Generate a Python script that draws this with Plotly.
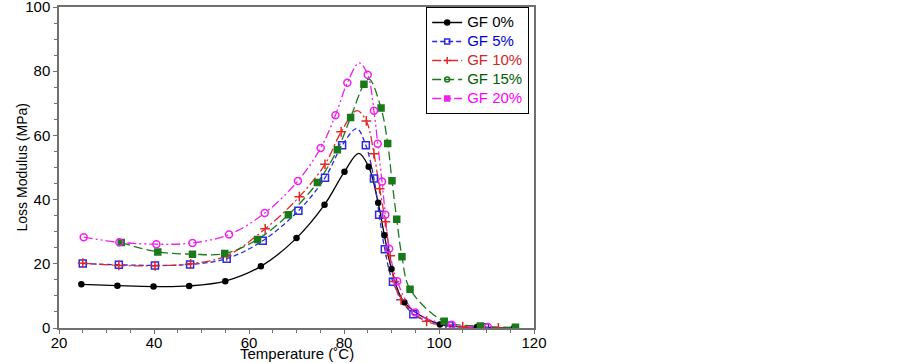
import plotly.graph_objects as go

labels = ["GF 0%", "GF 5%", "GF 10%", "GF 15%", "GF 20%"]

# marker points (Temperature °C, Loss Modulus MPa)
t_gf0 = [24.7, 32.3, 39.9, 47.4, 55.0, 62.5, 70.0, 75.9, 80.1, 85.2, 87.2, 88.5, 90.0, 92.7, 100.2, 108.0, 115.8]
m_gf0 = [13.6, 13.2, 12.9, 13.1, 14.6, 19.2, 28.0, 38.4, 48.7, 50.2, 39.0, 28.9, 18.4, 8.0, 1.1, 0.3, 0.0]

t_gf5 = [25.0, 32.6, 40.2, 47.6, 55.3, 62.9, 70.4, 76.0, 79.6, 84.6, 86.3, 87.4, 88.6, 90.3, 94.6, 102.2, 109.7]
m_gf5 = [20.1, 19.7, 19.5, 19.8, 21.6, 27.2, 36.5, 46.8, 56.9, 56.9, 46.6, 35.3, 24.5, 14.4, 4.3, 0.8, 0.2]

t_gf10 = [25.0, 32.6, 40.2, 47.7, 55.3, 63.4, 70.6, 76.0, 79.4, 84.7, 86.3, 87.5, 88.7, 89.7, 90.6, 92.0, 97.4, 105.0, 112.5]
m_gf10 = [20.2, 19.5, 19.4, 20.0, 22.5, 30.9, 40.9, 51.0, 61.1, 64.5, 54.3, 43.4, 33.1, 22.5, 14.5, 8.8, 2.1, 0.4, 0.0]

t_gf15 = [33.1, 40.8, 48.1, 54.9, 61.8, 68.3, 74.4, 78.6, 81.4, 84.2, 87.8, 89.2, 90.1, 91.1, 92.2, 93.9, 101.1, 108.7, 116.1]
m_gf15 = [26.6, 23.7, 23.0, 23.2, 27.6, 35.3, 45.3, 55.5, 65.6, 75.9, 68.5, 57.5, 45.9, 33.9, 22.2, 12.1, 2.1, 0.6, 0.2]

t_gf20 = [25.2, 32.7, 40.5, 48.1, 55.8, 63.3, 70.3, 75.1, 78.2, 80.7, 85.0, 86.3, 87.1, 88.0, 88.7, 89.5, 91.2, 95.0, 102.7, 110.3]
m_gf20 = [28.3, 26.7, 26.1, 26.5, 29.1, 35.8, 45.8, 56.1, 66.3, 76.4, 78.9, 67.7, 57.4, 45.6, 35.3, 24.7, 14.6, 4.8, 1.0, 0.3]

# curve maxima (between marker points)
peak_t = [83.1, 82.7, 82.7, 85.3, 83.2]
peak_m = [54.4, 62.1, 67.7, 77.5, 82.6]

x_ticks = [20, 40, 60, 80, 100, 120]
y_ticks = [0, 20, 40, 60, 80, 100]

series = [(t_gf0, m_gf0), (t_gf5, m_gf5), (t_gf10, m_gf10), (t_gf15, m_gf15), (t_gf20, m_gf20)]

line_colors = ["#000000", "#2a2ae0", "#e02828", "#1a7a1a", "#f020f0"]
text_colors = ["#000000", "#0000d0", "#d02828", "#006000", "#ff00ff"]
dashes = ["solid", "5px,3px", "9px,3px,2px,3px", "9px,4px", "9px,3px,2px,3px,2px,3px"]
symbols = ["circle", "square-open", "cross-thin", "square", "circle-open"]
sizes = [5, 7, 7, 6, 7]
# the legend of the original shows the 15% / 20% marker symbols swapped
legend_symbols = ["circle", "square-open", "cross-thin", "circle-open", "square"]

FONT = "Liberation Sans, Arial, sans-serif"

fig = go.Figure()

for i, (t, m) in enumerate(series):
    pts = sorted(list(zip(t, m)) + [(peak_t[i], peak_m[i])])
    fig.add_trace(go.Scatter(
        x=[p[0] for p in pts], y=[p[1] for p in pts], mode="lines",
        line=dict(color=line_colors[i], width=1.3, dash=dashes[i], shape="spline", smoothing=1.0),
        showlegend=False, hoverinfo="skip"))

for i, (t, m) in enumerate(series):
    fig.add_trace(go.Scatter(
        x=t, y=m, mode="markers",
        marker=dict(symbol=symbols[i], size=sizes[i], color=line_colors[i],
                    line=dict(color=line_colors[i], width=1.5)),
        showlegend=False, name=labels[i]))

for i in range(5):
    fig.add_trace(go.Scatter(
        x=[None], y=[None], mode="lines+markers",
        name="<span style='color:%s;font-size:15px'>%s</span>" % (text_colors[i], labels[i]),
        line=dict(color=line_colors[i], width=1.3, dash=dashes[i]),
        marker=dict(symbol=legend_symbols[i], size=5, color=line_colors[i],
                    line=dict(color=line_colors[i], width=1.5))))

axis_common = dict(
    showline=True, linecolor="#707070", linewidth=1.5, mirror=True,
    ticks="outside", ticklen=4, tickwidth=1.2, tickcolor="#707070",
    showgrid=False, zeroline=False,
    tickfont=dict(family=FONT, size=15, color="#000000"),
    automargin=False, ticklabeloverflow="allow",
)

fig.update_xaxes(
    range=[20, 120], tickvals=x_ticks, ticktext=[str(v) for v in x_ticks],
    minor=dict(dtick=5, ticks="outside", ticklen=3, tickcolor="#707070", tickwidth=1),
    ticklabelstandoff=-4,
    **axis_common)
fig.update_yaxes(
    range=[0, 100], tickvals=y_ticks, ticktext=[str(v) for v in y_ticks],
    minor=dict(dtick=5, ticks="outside", ticklen=3, tickcolor="#707070", tickwidth=1),
    **axis_common)

fig.add_annotation(
    text="Temperature (˚C)", xref="paper", yref="paper", x=0.5, y=-0.08,
    xanchor="center", yanchor="middle", showarrow=False,
    font=dict(family=FONT, size=15, color="#000000"))
fig.add_annotation(
    text="Loss Modulus (MPa)", xref="paper", yref="paper", x=-0.078, y=0.5,
    xanchor="center", yanchor="middle", showarrow=False, textangle=-90,
    font=dict(family=FONT, size=14, color="#000000"))

fig.update_layout(
    width=902, height=363,
    margin=dict(l=59, r=368, t=7, b=35),
    plot_bgcolor="white", paper_bgcolor="white",
    legend=dict(x=0.773, y=1.0, xanchor="left", yanchor="top",
                bgcolor="white", bordercolor="#000000", borderwidth=1,
                font=dict(family=FONT, size=12),
                itemwidth=30, tracegroupgap=0),
)

fig.write_html("out.html", config={"displayModeBar": False},
               post_script="document.body.style.margin='0';")
